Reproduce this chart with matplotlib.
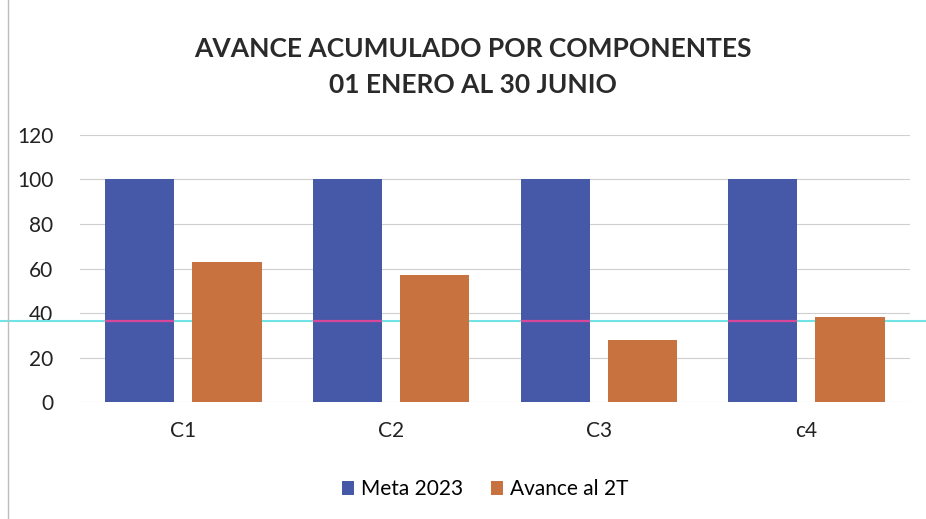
import matplotlib
matplotlib.use("Agg")
import matplotlib.pyplot as plt
import matplotlib.transforms as mtransforms
import numpy as np

plt.rcParams['font.family'] = ['Lato', 'DejaVu Sans']

categories = ["C1", "C2", "C3", "c4"]
meta_2023 = [100, 100, 100, 100]
avance_2t = [63, 57, 28, 38]
yticks = [0, 20, 40, 60, 80, 100, 120]
title = "AVANCE ACUMULADO POR COMPONENTES\n01 ENERO AL 30 JUNIO"
artifact_level = 36.5

blue = "#4659a8"
orange = "#c8733f"

fig = plt.figure(figsize=(9.26, 5.19), dpi=100)
ax = fig.add_axes([0.086, 0.2254, 0.897, 0.5145])

x = np.arange(len(categories))
w = 0.333
off = 0.21
b1 = ax.bar(x - off, meta_2023, w, color=blue, label="Meta 2023", zorder=2)
b2 = ax.bar(x + off, avance_2t, w, color=orange, label="Avance al 2T", zorder=3)

# scan artifact line spanning the whole page width, behind the bars
trans = mtransforms.blended_transform_factory(fig.transFigure, ax.transData)
ax.add_line(plt.Line2D([0, 1], [artifact_level, artifact_level], transform=trans,
                       color="#6fe3e6", lw=1.5, zorder=1.5, clip_on=False))
for r in b1:
    ax.hlines(artifact_level, r.get_x(), r.get_x() + r.get_width(), color="#d9479a", lw=1.6, zorder=2.5)

ax.set_ylim(0, 120)
ax.set_xlim(-0.5, 3.5)
ax.set_yticks(yticks)
ax.set_xticks(x)
ax.set_xticklabels(categories)
ax.yaxis.grid(True, color="#cfcfcf", lw=0.8)
ax.set_axisbelow(True)
for s in ax.spines.values():
    s.set_visible(False)
ax.tick_params(length=0, labelsize=15, colors="#222222")
ax.tick_params(axis='y', pad=19)
ax.tick_params(axis='x', pad=14)

fig.text(0.511, 0.87, title, ha="center", va="center", fontsize=19, fontweight="bold",
         color="#2a2a2a", linespacing=1.6)

fig.legend(handles=[b1, b2], loc="center", bbox_to_anchor=(0.524, 0.057), ncol=2, frameon=False,
           fontsize=15, handlelength=0.6, handleheight=0.6, handletextpad=0.35, columnspacing=1.3)

# chart border (left edge visible in scan)
fig.add_artist(plt.Line2D([0.009, 0.009], [0.0, 1.0], transform=fig.transFigure, color="#bdbdbd", lw=1))

fig.savefig("out.png", dpi=100)
